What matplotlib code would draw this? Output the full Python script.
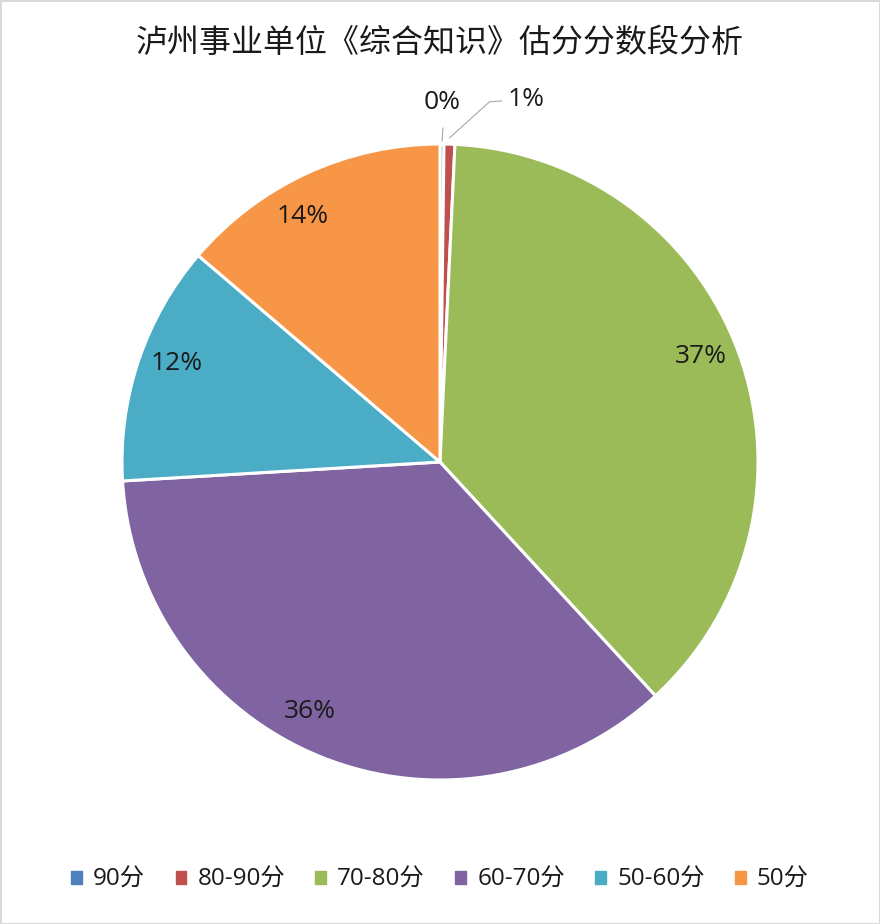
import numpy as np
import matplotlib
matplotlib.use("Agg")
import matplotlib.pyplot as plt

plt.rcParams['font.family'] = ['Open Sans', 'Noto Sans CJK SC', 'DejaVu Sans']

title = "泸州事业单位《综合知识》估分分数段分析"
categories = ["90分", "80-90分", "70-80分", "60-70分", "50-60分", "50分"]
values = [0.2, 0.55, 37.4, 35.9, 12.2, 13.75]
colors = ["#4F81BD", "#C0504D", "#9BBB59", "#8064A2", "#4BACC6", "#F79646"]
# clockwise shift (degrees) of inside labels, as placed in the original
label_shift = [0, 0, -2.0, 5.5, 2.0, -4.5]

W, H = 880, 924
fig = plt.figure(figsize=(W / 100, H / 100), dpi=100)
fig.patch.set_facecolor("white")
fig.patch.set_edgecolor("#D9D9D9")
fig.patch.set_linewidth(2)

cx, cy, r = 440, 462, 318
ax = fig.add_axes([(cx - r) / W, (H - cy - r) / H, 2 * r / W, 2 * r / H])

total = sum(values)
def fmt(p):
    return f"{int(p + 0.5)}%"

wedges, _ = ax.pie(values, colors=colors, startangle=90, counterclock=False,
                   wedgeprops=dict(edgecolor="white", linewidth=2.2),
                   radius=1.0)
ax.set_xlim(-1, 1)
ax.set_ylim(-1, 1)
ax.set_aspect('auto')

txt_color = "#1a1a1a"
fs = 19
for i, (w, v) in enumerate(zip(wedges, values)):
    mid = (w.theta1 + w.theta2) / 2 - label_shift[i]
    ang = np.deg2rad(mid)
    pct = v / total * 100
    label = fmt(pct)
    if pct >= 5:
        d = 0.885
        ax.text(d * np.cos(ang), d * np.sin(ang), label, fontsize=fs,
                color=txt_color, ha="center", va="center")
    elif i == 0:
        x0, y0 = 1.01 * np.cos(ang), 1.01 * np.sin(ang)
        ax.plot([x0, x0 + 0.003], [y0 + 0.0, y0 + 0.04], color="#A6A6A6", lw=0.8)
        ax.text(x0, y0 + 0.12, label, fontsize=fs, color=txt_color,
                ha="center", va="center")
    else:
        x0, y0 = 1.02 * np.cos(ang), 1.02 * np.sin(ang)
        xk, yk = x0 + 0.125, y0 + 0.113
        ax.plot([x0, xk, xk + 0.038], [y0, yk, yk + 0.003], color="#A6A6A6", lw=0.8)
        ax.text(xk + 0.058, yk + 0.008, label, ha="left", va="center",
                fontsize=fs, color=txt_color)
for t in ax.texts:
    t.set_clip_on(False)
for l in ax.lines:
    l.set_clip_on(False)

fig.text(0.5, 1 - 43 / H, title, ha="center", va="center", fontsize=23,
         color=txt_color)

handles = [plt.Rectangle((0, 0), 1, 1, color=c) for c in colors]
leg = fig.legend(handles, categories, loc="center", bbox_to_anchor=(0.5, 1 - 880 / H),
                 ncol=6, frameon=False, fontsize=17.5, handlelength=0.45,
                 handleheight=0.45, handletextpad=0.45, columnspacing=1.25)
for t in leg.get_texts():
    t.set_color(txt_color)

fig.savefig("out.png", dpi=100, facecolor=fig.get_facecolor(), edgecolor=fig.get_edgecolor())
